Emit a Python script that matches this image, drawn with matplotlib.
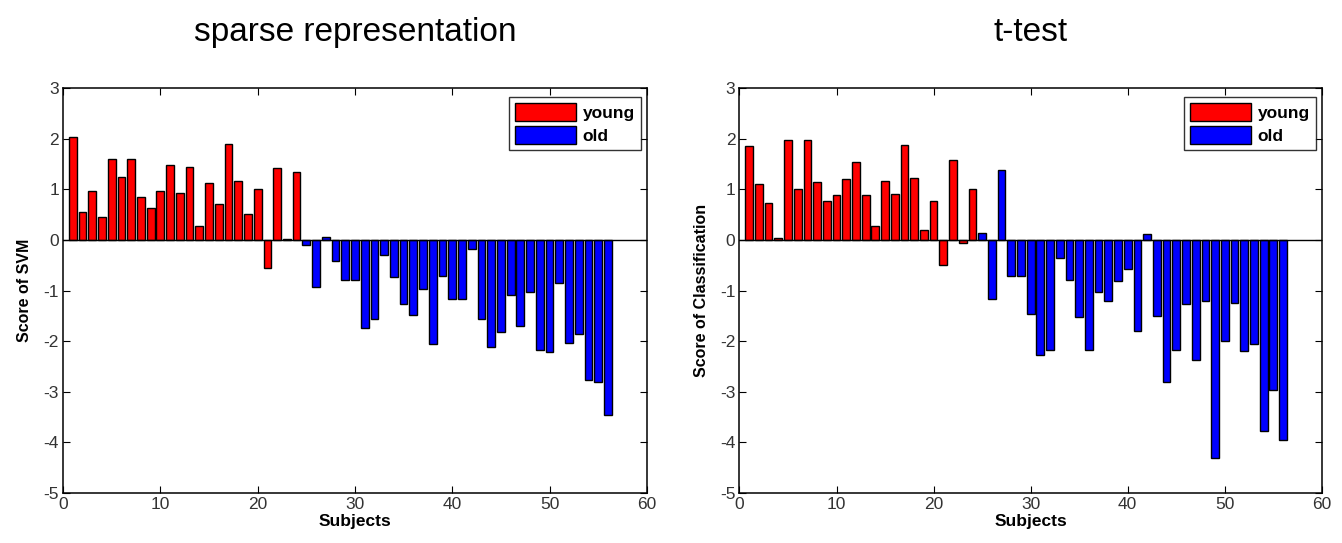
import numpy as np
import matplotlib
matplotlib.use('Agg')
import matplotlib.pyplot as plt
from matplotlib.patches import Patch

plt.rcParams['font.family'] = ['Liberation Sans', 'DejaVu Sans']
plt.rcParams['axes.unicode_minus'] = False

# classifier scores per subject, subjects 1..24 young, 25..56 old
svm_scores = [2.03, 0.56, 0.97, 0.46, 1.59, 1.25, 1.59, 0.84, 0.62, 0.97,
              1.48, 0.92, 1.43, 0.27, 1.13, 0.70, 1.90, 1.17, 0.51, 1.00,
              -0.55, 1.41, 0.02, 1.35,
              -0.11, -0.93, 0.05, -0.41, -0.79, -0.79, -1.74, -1.57, -0.30, -0.73,
              -1.27, -1.49, -0.97, -2.06, -0.72, -1.16, -1.16, -0.18, -1.57, -2.11,
              -1.82, -1.08, -1.70, -1.03, -2.17, -2.22, -0.85, -2.03, -1.85, -2.76,
              -2.81, -3.46]
ttest_scores = [1.85, 1.11, 0.73, 0.03, 1.97, 1.00, 1.97, 1.15, 0.77, 0.89,
                1.21, 1.53, 0.89, 0.28, 1.17, 0.91, 1.88, 1.23, 0.20, 0.77,
                -0.50, 1.58, -0.07, 1.00,
                0.14, -1.16, 1.38, -0.71, -0.71, -1.46, -2.28, -2.17, -0.35, -0.79,
                -1.53, -2.17, -1.02, -1.20, -0.82, -0.57, -1.79, 0.12, -1.50, -2.81,
                -2.17, -1.27, -2.37, -1.20, -4.30, -1.99, -1.25, -2.20, -2.06, -3.78,
                -2.96, -3.96]
n_young = 24
groups = ['young', 'old']
group_colors = ['#ff0000', '#0000ff']

panels = [
    ('sparse representation', 'Score of SVM', svm_scores, [0.047, 0.092, 0.435, 0.746]),
    ('t-test', 'Score of Classification', ttest_scores, [0.551, 0.092, 0.434, 0.746]),
]

fig = plt.figure(figsize=(13.42, 5.43), dpi=100)

for title, ylabel, scores, rect in panels:
    ax = fig.add_axes(rect)
    x = np.arange(1, len(scores) + 1)
    colors = [group_colors[0] if i <= n_young else group_colors[1] for i in x]
    ax.bar(x, scores, width=0.8, color=colors, edgecolor='black', linewidth=1.0, zorder=2)
    ax.axhline(0, color='black', linewidth=1.0, zorder=3)
    ax.set_xlim(0, 60)
    ax.set_ylim(-5, 3)
    ax.set_xticks(range(0, 61, 10))
    ax.set_yticks(range(-5, 4))
    ax.tick_params(direction='in', top=True, right=True, labelsize=12.5,
                   labelcolor='#333333', length=5, pad=3)
    for s in ax.spines.values():
        s.set_linewidth(1.1)
    ax.set_title(title, fontsize=24, pad=34)
    ax.set_xlabel('Subjects', fontsize=12.5, fontweight='bold', labelpad=1)
    ax.set_ylabel(ylabel, fontsize=11.5, fontweight='bold', labelpad=8)
    handles = [Patch(facecolor=c, edgecolor='black', label=g)
               for g, c in zip(groups, group_colors)]
    ax.legend(handles=handles, loc='upper right', fancybox=False, edgecolor='black',
              prop={'weight': 'bold', 'size': 12.5}, handlelength=3.5, handleheight=1.2,
              handletextpad=0.4, borderpad=0.35, labelspacing=0.3, borderaxespad=0,
              bbox_to_anchor=(0.99, 0.978))

fig.savefig('out.png', dpi=100)
